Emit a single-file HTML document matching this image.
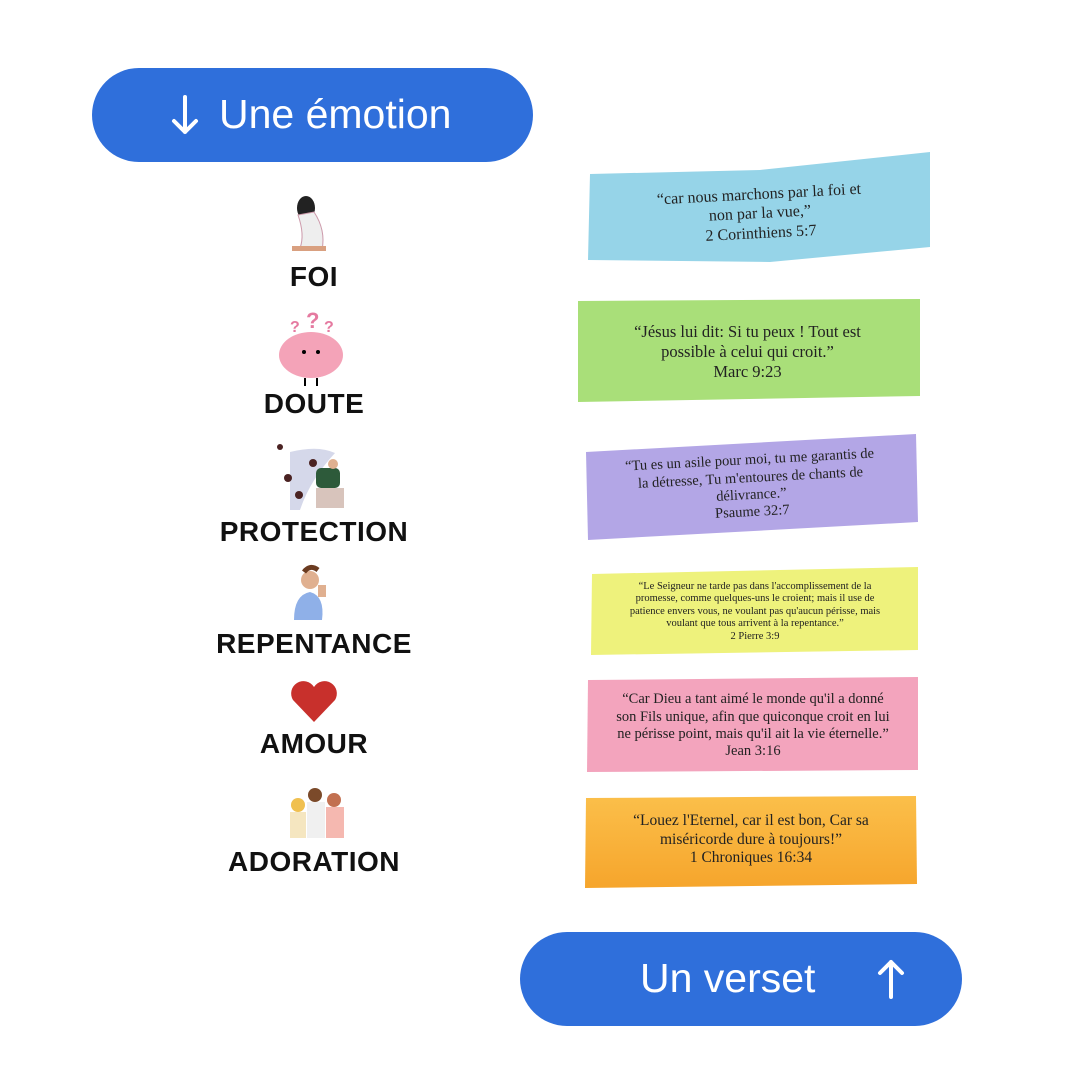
<!DOCTYPE html>
<html><head><meta charset="utf-8"><style>
body{margin:0;width:1080px;height:1080px;background:#fff;position:relative;overflow:hidden;font-family:"Liberation Sans",sans-serif}
.pill{position:absolute;background:#2f6fdb;border-radius:48px;color:#fff;font-size:41px}
.lab{position:absolute;left:200px;width:228px;text-align:center;font-weight:bold;font-size:28px;color:#111;letter-spacing:0.5px}
.s{position:absolute;display:flex;align-items:center;justify-content:center;text-align:center;font-family:"Liberation Serif",serif;color:#222;line-height:1.2}
</style></head><body>
<div class="pill" style="left:92px;top:68px;width:441px;height:94px">
<svg width="30" height="42" viewBox="0 0 30 42" style="position:absolute;left:78px;top:26px"><path d="M15 3V38M4 27L15 38L26 27" stroke="#fff" stroke-width="4" fill="none" stroke-linecap="round" stroke-linejoin="round"/></svg>
<span style="position:absolute;left:127px;top:23px">Une émotion</span></div>
<div class="pill" style="left:520px;top:932px;width:442px;height:94px"><span style="position:absolute;left:120px;top:23px">Un verset</span>
<svg width="30" height="42" viewBox="0 0 30 42" style="position:absolute;left:356px;top:26px"><path d="M15 39V4M4 15L15 4L26 15" stroke="#fff" stroke-width="4" fill="none" stroke-linecap="round" stroke-linejoin="round"/></svg></div>

<svg width="1080" height="1080" style="position:absolute;left:0;top:0">
<ellipse cx="306" cy="208" rx="9" ry="12" fill="#222"/><path d="M298 215 Q305 235 300 248 L322 250 Q326 230 314 212Z" fill="#eee" stroke="#c9a" stroke-width="1"/><rect x="292" y="246" width="34" height="5" fill="#d9a080"/>
<text x="290" y="332" fill="#e57aa0" font-size="16" font-weight="bold">?</text><text x="306" y="328" fill="#e57aa0" font-size="22" font-weight="bold">?</text><text x="324" y="332" fill="#e57aa0" font-size="16" font-weight="bold">?</text>
<ellipse cx="311" cy="355" rx="32" ry="23" fill="#f4a3b8"/><circle cx="304" cy="352" r="2" fill="#000"/><circle cx="318" cy="352" r="2" fill="#000"/>
<line x1="305" y1="378" x2="305" y2="386" stroke="#000" stroke-width="2"/><line x1="317" y1="378" x2="317" y2="386" stroke="#000" stroke-width="2"/>
<path d="M290 452 Q318 445 335 453 Q310 480 300 510 L290 510Z" fill="#d5d8ea"/>
<circle cx="280" cy="447" r="3" fill="#4a2222"/><circle cx="313" cy="463" r="4" fill="#4a2222"/><circle cx="288" cy="478" r="4" fill="#4a2222"/><circle cx="299" cy="495" r="4" fill="#4a2222"/>
<rect x="316" y="468" width="24" height="20" rx="5" fill="#2d5a3a"/><circle cx="333" cy="464" r="5" fill="#e0b090"/><rect x="316" y="488" width="28" height="20" fill="#d8c4bc"/>
<circle cx="310" cy="580" r="9" fill="#e0b090"/><path d="M304 572 q6-8 14 -2" stroke="#6b3b20" stroke-width="5" fill="none"/><path d="M294 620 Q294 595 310 592 Q325 596 322 620Z" fill="#8fb0e8"/><rect x="318" y="585" width="8" height="12" fill="#e0b090"/>
<path d="M314 722 L293 700 A11 11 0 0 1 314 687 A11 11 0 0 1 335 700Z" fill="#c8302c"/>
<circle cx="298" cy="805" r="7" fill="#f0c050"/><rect x="290" y="812" width="16" height="26" fill="#f5e6c0"/>
<circle cx="315" cy="795" r="7" fill="#7b4a2a"/><rect x="307" y="802" width="18" height="36" fill="#f0f0f0"/>
<circle cx="334" cy="800" r="7" fill="#c27050"/><rect x="326" y="807" width="18" height="31" fill="#f5b8b0"/>
</svg>

<div class="lab" style="top:261px">FOI</div>
<div class="lab" style="top:388px">DOUTE</div>
<div class="lab" style="top:516px">PROTECTION</div>
<div class="lab" style="top:628px">REPENTANCE</div>
<div class="lab" style="top:728px">AMOUR</div>
<div class="lab" style="top:846px">ADORATION</div>

<svg width="1080" height="1080" style="position:absolute;left:0;top:0">
<polygon points="590,174 760,170 930,152 930,247 770,262 588,260" fill="#96d4e8"/>
<polygon points="578,301 920,299 920,396 578,402" fill="#a9df79"/>
<polygon points="586,452 916,434 918,522 588,540" fill="#b3a6e6"/>
<polygon points="592,574 918,567 918,650 591,655" fill="#eef27c"/>
<polygon points="588,680 918,677 918,770 587,772" fill="#f3a4bd"/>
<defs><linearGradient id="o" x1="0" y1="0" x2="0" y2="1"><stop offset="0" stop-color="#fbbf4a"/><stop offset="1" stop-color="#f6a52c"/></linearGradient></defs>
<polygon points="586,798 916,796 917,884 585,888" fill="url(#o)"/>
</svg>
<div class="s" style="left:600px;top:174px;width:320px;height:80px;font-size:16px;transform:rotate(-3deg)">“car nous marchons par la foi et<br>non par la vue,”<br>2 Corinthiens 5:7</div>
<div class="s" style="left:585px;top:310px;width:325px;height:84px;font-size:16.5px">“Jésus lui dit: Si tu peux ! Tout est<br>possible à celui qui croit.”<br>Marc 9:23</div>
<div class="s" style="left:592px;top:444px;width:318px;height:86px;font-size:14.5px;transform:rotate(-3deg)">“Tu es un asile pour moi, tu me garantis de<br>la détresse, Tu m'entoures de chants de<br>délivrance.”<br>Psaume 32:7</div>
<div class="s" style="left:596px;top:572px;width:318px;height:80px;font-size:10.5px">“Le Seigneur ne tarde pas dans l'accomplissement de la<br>promesse, comme quelques-uns le croient; mais il use de<br>patience envers vous, ne voulant pas qu'aucun périsse, mais<br>voulant que tous arrivent à la repentance.”<br>2 Pierre 3:9</div>
<div class="s" style="left:592px;top:684px;width:322px;height:84px;font-size:14.5px">“Car Dieu a tant aimé le monde qu'il a donné<br>son Fils unique, afin que quiconque croit en lui<br>ne périsse point, mais qu'il ait la vie éternelle.”<br>Jean 3:16</div>
<div class="s" style="left:590px;top:800px;width:322px;height:80px;font-size:15.5px">“Louez l'Eternel, car il est bon, Car sa<br>miséricorde dure à toujours!”<br>1 Chroniques 16:34</div>
</body></html>
